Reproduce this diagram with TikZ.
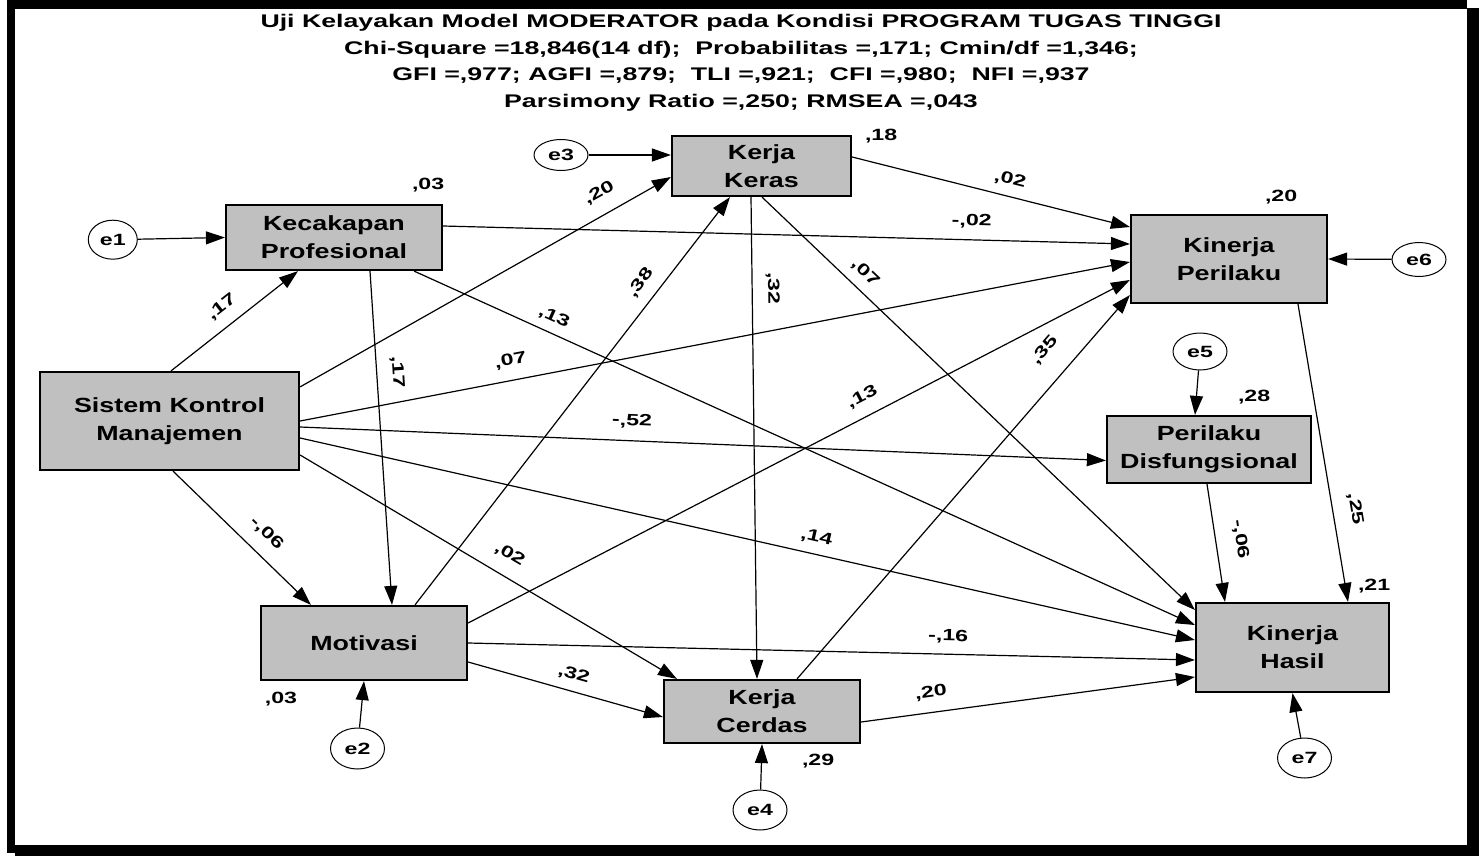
\documentclass[tikz,border=0pt]{standalone}
\usepackage{fontspec}
\newfontfamily\titlefont{Liberation Sans}[FakeStretch=1.46]
\newfontfamily\boxfont{Liberation Sans}[FakeStretch=1.31]
\newfontfamily\coeffont{Liberation Sans}[FakeStretch=1.42]
\usetikzlibrary{arrows.meta,calc,shapes.geometric}
\definecolor{boxgray}{RGB}{192,192,192}

\tikzset{
  varbox/.style={rectangle, draw=black, line width=2.2pt, fill=boxgray, inner sep=0pt,
    align=center, font=\boxfont\bfseries\fontsize{20.5}{27.7}\selectfont},
  errnode/.style={ellipse, draw=black, line width=1pt, fill=white, inner sep=0pt,
    minimum width=54pt, minimum height=39pt, font=\coeffont\bfseries\fontsize{16.3}{18}\selectfont},
  arr/.style={line width=1.2pt, -{Triangle[length=19pt,width=13pt]}},
  coef/.style={sloped, above=#1, inner sep=1pt, font=\coeffont\bfseries\fontsize{16.3}{18}\selectfont},
  coef/.default=11pt,
  rsq/.style={inner sep=0pt, font=\coeffont\bfseries\fontsize{16.3}{18}\selectfont},
  titleline/.style={anchor=base, inner sep=0pt, font=\titlefont\bfseries\fontsize{18.3}{26.7}\selectfont}
}

\begin{document}
\begin{tikzpicture}[x=1pt,y=-1pt]
\useasboundingbox (0,0) rectangle (1479,856);
\fill[white] (0,0) rectangle (1479,856);
% frame with drop shadow
\fill[black] (7,0) rectangle (1467,853);
\fill[black] (15,8) rectangle (1479,856);
\fill[white] (15,9) rectangle (1467,845);

% heading
\node[titleline] (t1) at (741,27.5) {Uji Kelayakan Model MODERATOR pada Kondisi PROGRAM TUGAS TINGGI};
\node[titleline] (t2) at (741,55) {Chi-Square =18,846(14 df);~ Probabilitas =,171; Cmin/df =1,346;};
\node[titleline] (t3) at (741,81) {GFI =,977; AGFI =,879;~ TLI =,921;~ CFI =,980;~ NFI =,937};
\node[titleline] (t4) at (741,107) {Parsimony Ratio =,250; RMSEA =,043};

% observed variables
\node[varbox, minimum width=259pt, minimum height=98pt] (skm) at (169.5,421) {Sistem Kontrol\\Manajemen};
\node[varbox, minimum width=216pt, minimum height=65pt] (kp) at (334,237.5) {Kecakapan\\Profesional};
\node[varbox, minimum width=179pt, minimum height=60pt] (kk) at (761.5,166) {Kerja\\Keras};
\node[varbox, minimum width=196pt, minimum height=88pt] (kper) at (1229,259) {Kinerja\\Perilaku};
\node[varbox, minimum width=204pt, minimum height=67pt] (pd) at (1209,449.5) {Perilaku\\Disfungsional};
\node[varbox, minimum width=206pt, minimum height=74pt] (mot) at (364,643) {Motivasi};
\node[varbox, minimum width=196pt, minimum height=63pt] (kc) at (762,711.5) {Kerja\\Cerdas};
\node[varbox, minimum width=193pt, minimum height=89pt] (kh) at (1292.5,647.5) {Kinerja\\Hasil};

% error terms
\node[errnode, minimum width=49pt] (e1) at (112.8,239.7) {e1};
\node[errnode, minimum height=31pt] (e3) at (561,155) {e3};
\node[errnode, minimum height=34pt] (e6) at (1419,259.5) {e6};
\node[errnode, minimum height=37pt] (e5) at (1200,351.5) {e5};
\node[errnode, minimum height=41pt] (e2) at (357.5,748.5) {e2};
\node[errnode, minimum height=40pt] (e4) at (760,810) {e4};
\node[errnode, minimum height=40pt] (e7) at (1304.5,758) {e7};

% squared multiple correlations
\node[rsq] (r1) at ($(kp.north east)+(-15,-19)$) {,03};
\node[rsq] (r3) at ($(kk.north east)+(29,1)$) {,18};
\node[rsq] (r6) at ($(kper.north east)+(-47,-17)$) {,20};
\node[rsq] (r5) at ($(pd.north east)+(-58,-18)$) {,28};
\node[rsq] (r2) at ($(mot.south west)+(21,18)$) {,03};
\node[rsq] (r4) at ($(kc.south east)+(-43,17)$) {,29};
\node[rsq] (r7) at ($(kh.north east)+(-16,-16)$) {,21};

% paths from Sistem Kontrol Manajemen
\draw[arr] ($(skm.north)+(1.5,0)$) -- node[coef=10pt,pos=.49]{,17} ($(kp.south)+(-36,0)$);
\draw[arr] ($(skm.north east)+(0,16)$) -- node[coef=13pt,pos=.835]{,20} ($(kk.west)+(0,11)$);
\draw[arr] (skm.east) -- node[coef,pos=.258]{,07} ($(kper.west)+(0,3)$);
\draw[arr] ($(skm.east)+(0,6)$) -- node[coef,pos=.411]{-,52} ($(pd.west)+(0,11)$);
\draw[arr] ($(skm.east)+(0,17)$) -- node[coef=8pt,pos=.573]{,14} ($(kh.west)+(0,-7.5)$);
\draw[arr] ($(skm.east)+(0,34)$) -- node[coef=13pt,pos=.527]{,02} ($(kc.north west)+(14,0)$);
\draw[arr] ($(skm.south)+(3.5,0)$) -- node[coef=12pt,pos=.575]{-,06} ($(mot.north west)+(51,0)$);

% paths from Kecakapan Profesional
\draw[arr] ($(kp.east)+(0,-11.5)$) -- node[coef=10pt,pos=.769]{-,02} ($(kper.west)+(0,-15)$);
\draw[arr] ($(kp.south east)+(-29,0)$) -- node[coef=7pt,pos=.171]{,13} ($(kh.west)+(0,-22.5)$);
\draw[arr] ($(kp.south)+(36,0)$) -- node[coef=12pt,pos=.307]{,17} ($(mot.north)+(28,0)$);

% paths from Motivasi
\draw[arr] ($(mot.north)+(51,0)$) -- node[coef=10pt,pos=.762]{,38} ($(kk.south)+(-31.5,0)$);
\draw[arr] ($(mot.east)+(0,-20)$) -- node[coef,pos=.609]{,13} ($(kper.west)+(0,21)$);
\draw[arr] (mot.east) -- node[coef=9pt,pos=.66]{-,16} ($(kh.west)+(0,12.5)$);
\draw[arr] ($(mot.east)+(0,19)$) -- node[coef=8pt,pos=.519]{,32} ($(kc.west)+(0,5.5)$);

% paths from Kerja Keras
\draw[arr] ($(kk.east)+(0,-9)$) -- node[coef=8pt,pos=.554]{,02} ($(kper.west)+(0,-32)$);
\draw[arr] ($(kk.south)+(-10.5,0)$) -- node[coef=12pt,pos=.19]{,32} ($(kc.north)+(-5,0)$);
\draw[arr] ($(kk.south)+(0.5,0)$) -- node[coef=8pt,pos=.212]{,07} ($(kh.west)+(0,-37.5)$);

% paths from Kerja Cerdas
\draw[arr] ($(kc.north)+(35,0)$) -- node[coef=20pt,pos=.808]{,35} ($(kper.west)+(0,36)$);
\draw[arr] ($(kc.east)+(0,10.5)$) -- node[coef,pos=.217]{,20} ($(kh.west)+(0,29.5)$);

% paths into Kinerja Hasil from the right-hand column
\draw[arr] ($(kper.south)+(69,0)$) -- node[coef=14pt,pos=.70]{,25} ($(kh.north)+(55.5,0)$);
\draw[arr] ($(pd.south)+(-2,0)$) -- node[coef=16pt,pos=.5]{-,06} ($(kh.north)+(-67.5,0)$);

% error terms
\draw[arr] (e1) -- (kp.west);
\draw[arr] (e3) -- ($(kk.west)+(0,-11)$);
\draw[arr] (e2) -- (mot.south);
\draw[arr] (e4) -- (kc.south);
\draw[arr] (e6) -- (kper.east);
\draw[arr] (e5) -- ($(pd.north)+(-14,0)$);
\draw[arr] (e7) -- (kh.south);
\end{tikzpicture}
\end{document}
